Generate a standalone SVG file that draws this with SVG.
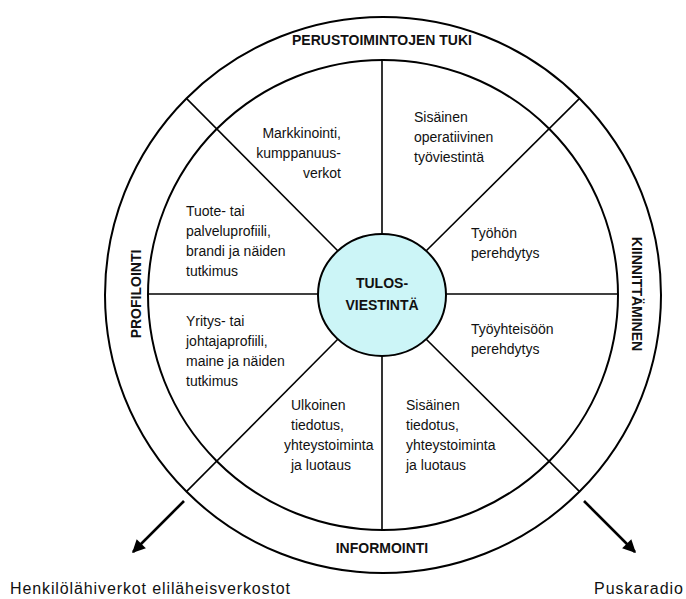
<svg xmlns="http://www.w3.org/2000/svg" width="686" height="599" viewBox="0 0 686 599">
  <style>
    .ring { fill: none; stroke: #000; stroke-width: 2; }
    .div { stroke: #000; stroke-width: 1.6; fill: none; }
    .arrow { stroke: #000; stroke-width: 2.6; fill: none; }
    .seg { font-family: "Liberation Sans", Arial, sans-serif; font-size: 14px; fill: #111; }
    .band { font-family: "Liberation Sans", Arial, sans-serif; font-size: 14px; font-weight: bold; fill: #111; text-anchor: middle; }
    .core { font-family: "Liberation Sans", Arial, sans-serif; font-size: 14px; font-weight: bold; fill: #111; text-anchor: middle; }
    .foot { font-family: "Liberation Sans", Arial, sans-serif; font-size: 16px; fill: #111; }
  </style>
  <defs>
    <marker id="head" viewBox="0 0 10 10" refX="9" refY="5" markerWidth="5.5" markerHeight="5" orient="auto" markerUnits="strokeWidth">
      <path d="M0,0 L10,5 L0,10 z" fill="#000"/>
    </marker>
  </defs>
  <rect width="686" height="599" fill="#fff"/>

  <!-- outer band and inner wheel -->
  <g id="wheel">
    <circle class="ring" cx="383" cy="295" r="278"/>
    <circle class="ring" cx="383" cy="295" r="235"/>
  </g>

  <!-- spokes and outgoing arrows -->
  <g id="connectors">
    <line class="div" x1="382" y1="60" x2="382" y2="234"/>
    <line class="div" x1="382" y1="356" x2="382" y2="530"/>
    <line class="div" x1="148" y1="294" x2="318" y2="294"/>
    <line class="div" x1="446" y1="294" x2="618" y2="294"/>
    <line class="div" x1="338" y1="251" x2="186.4" y2="98.4"/>
    <line class="div" x1="426" y1="251" x2="579.6" y2="98.4"/>
    <line class="div" x1="338" y1="339" x2="186.4" y2="491.6"/>
    <line class="div" x1="426" y1="339" x2="579.6" y2="491.6"/>
    <line class="arrow" x1="184" y1="501" x2="133" y2="552" marker-end="url(#head)"/>
    <line class="arrow" x1="584" y1="501" x2="635" y2="552" marker-end="url(#head)"/>
  </g>

  <!-- band labels -->
  <g id="band-top"><text class="band" x="382" y="45">PERUSTOIMINTOJEN TUKI</text></g>
  <g id="band-bottom"><text class="band" x="382" y="553">INFORMOINTI</text></g>
  <g id="band-left"><text class="band" transform="translate(141,294) rotate(-90)">PROFILOINTI</text></g>
  <g id="band-right"><text class="band" transform="translate(632,294) rotate(90)">KIINNITTÄMINEN</text></g>

  <!-- centre -->
  <g id="core">
    <ellipse cx="382" cy="295" rx="64" ry="61" fill="#ccf5f7" stroke="#000" stroke-width="2"/>
    <text class="core" x="382" y="288">TULOS-</text>
    <text class="core" x="382" y="310">VIESTINTÄ</text>
  </g>

  <!-- sectors -->
  <g id="s-markkinointi">
    <text class="seg" text-anchor="end"><tspan x="341" y="138">Markkinointi,</tspan><tspan x="341" y="158">kumppanuus-</tspan><tspan x="341" y="178">verkot</tspan></text>
  </g>
  <g id="s-operatiivinen">
    <text class="seg"><tspan x="414" y="122">Sisäinen</tspan><tspan x="414" y="142">operatiivinen</tspan><tspan x="414" y="162">työviestintä</tspan></text>
  </g>
  <g id="s-tyohon">
    <text class="seg"><tspan x="471" y="238">Työhön</tspan><tspan x="471" y="258">perehdytys</tspan></text>
  </g>
  <g id="s-tyoyhteisoon">
    <text class="seg"><tspan x="471" y="334">Työyhteisöön</tspan><tspan x="471" y="354">perehdytys</tspan></text>
  </g>
  <g id="s-tuote">
    <text class="seg"><tspan x="186" y="216">Tuote- tai</tspan><tspan x="186" y="236">palveluprofiili,</tspan><tspan x="186" y="256">brandi ja näiden</tspan><tspan x="186" y="276">tutkimus</tspan></text>
  </g>
  <g id="s-yritys">
    <text class="seg"><tspan x="186" y="326">Yritys- tai</tspan><tspan x="186" y="346">johtajaprofiili,</tspan><tspan x="186" y="366">maine ja näiden</tspan><tspan x="186" y="386">tutkimus</tspan></text>
  </g>
  <g id="s-ulkoinen">
    <text class="seg"><tspan x="291" y="410">Ulkoinen</tspan><tspan x="291" y="430">tiedotus,</tspan><tspan x="284" y="450">yhteystoiminta</tspan><tspan x="291" y="470">ja luotaus</tspan></text>
  </g>
  <g id="s-sisainen">
    <text class="seg"><tspan x="406" y="410">Sisäinen</tspan><tspan x="406" y="430">tiedotus,</tspan><tspan x="406" y="450">yhteystoiminta</tspan><tspan x="406" y="470">ja luotaus</tspan></text>
  </g>

  <!-- destinations -->
  <g id="dest-left"><text class="foot" x="10" y="594" textLength="280" lengthAdjust="spacing">Henkilölähiverkot eliläheisverkostot</text></g>
  <g id="dest-right"><text class="foot" x="594" y="594" textLength="89" lengthAdjust="spacing">Puskaradio</text></g>
</svg>
